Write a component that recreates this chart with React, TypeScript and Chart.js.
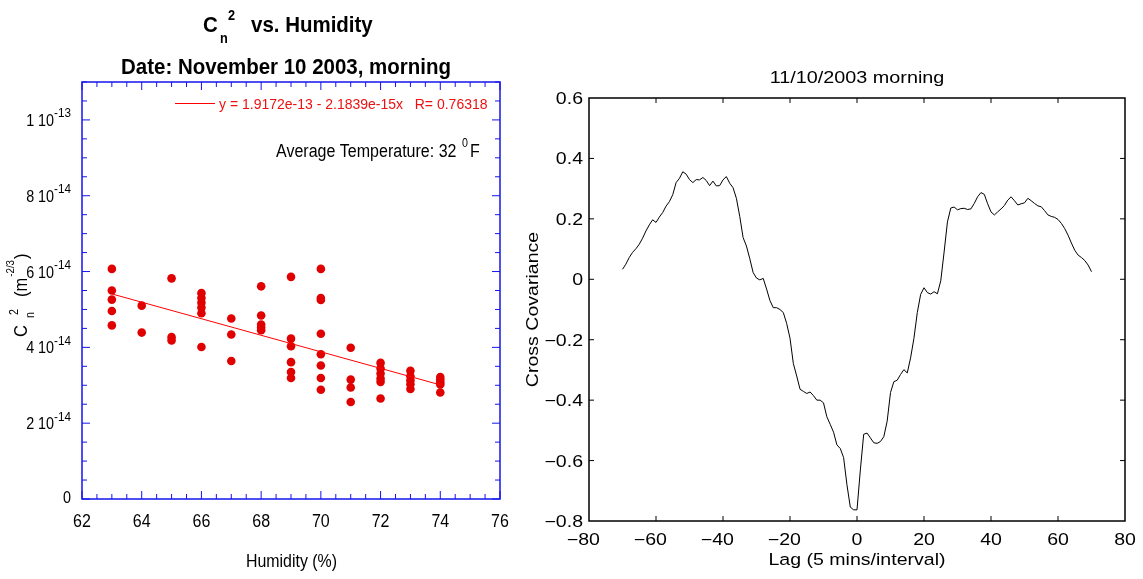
import React, { useEffect, useRef } from "react";
import { Chart, registerables } from "chart.js";

Chart.register(...registerables);

// ---------------- Left panel data: Cn2 vs Humidity ----------------
const humidity = [
  63, 63, 63, 63, 63,
  64, 64,
  65, 65, 65,
  66, 66, 66, 66, 66, 66,
  67, 67, 67,
  68, 68, 68, 68, 68,
  69, 69, 69, 69, 69, 69,
  70, 70, 70, 70, 70, 70, 70, 70,
  71, 71, 71, 71,
  72, 72, 72, 72, 72, 72,
  73, 73, 73, 73, 73,
  74, 74, 74, 74, 74,
];
const cn2 = [
  6.07e-14, 5.5e-14, 5.26e-14, 4.96e-14, 4.58e-14,
  5.1e-14, 4.39e-14,
  5.82e-14, 4.27e-14, 4.18e-14,
  5.43e-14, 5.3e-14, 5.18e-14, 5.05e-14, 4.9e-14, 4.01e-14,
  4.76e-14, 4.34e-14, 3.64e-14,
  5.61e-14, 4.84e-14, 4.6e-14, 4.52e-14, 4.45e-14,
  5.86e-14, 4.23e-14, 4.03e-14, 3.61e-14, 3.35e-14, 3.19e-14,
  6.07e-14, 5.3e-14, 5.25e-14, 4.36e-14, 3.82e-14, 3.52e-14, 3.19e-14, 2.88e-14,
  3.99e-14, 3.15e-14, 2.94e-14, 2.56e-14,
  3.59e-14, 3.44e-14, 3.31e-14, 3.18e-14, 3.09e-14, 2.65e-14,
  3.38e-14, 3.24e-14, 3.13e-14, 3.03e-14, 2.9e-14,
  3.22e-14, 3.15e-14, 3.08e-14, 3.02e-14, 2.81e-14,
];
const fitLineX = [63, 74];
const fitLineY = [5.41e-14, 3.01e-14];
const fitLegendText = "y = 1.9172e-13 - 2.1839e-15x   R= 0.76318";

const leftXTickValues = [62, 64, 66, 68, 70, 72, 74, 76];
const leftXTickLabels = ["62", "64", "66", "68", "70", "72", "74", "76"];
const leftYTickValues = [0, 2e-14, 4e-14, 6e-14, 8e-14, 1e-13];
const leftYTickMantissas = ["0", "2 10", "4 10", "6 10", "8 10", "1 10"];
const leftYTickExponents = ["", "-14", "-14", "-14", "-14", "-13"];

// ---------------- Right panel data: cross covariance ----------------
const lags = [
  -70, -69, -68, -67, -66, -65, -64, -63, -62, -61,
  -60, -59, -58, -57, -56, -55, -54, -53, -52, -51,
  -50, -49, -48, -47, -46, -45, -44, -43, -42, -41,
  -40, -39, -38, -37, -36, -35, -34, -33, -32, -31,
  -30, -29, -28, -27, -26, -25, -24, -23, -22, -21,
  -20, -19, -18, -17, -16, -15, -14, -13, -12, -11,
  -10, -9, -8, -7, -6, -5, -4, -3, -2, -1,
  0,
  1, 2, 3, 4, 5, 6, 7, 8, 9, 10,
  11, 12, 13, 14, 15, 16, 17, 18, 19, 20,
  21, 22, 23, 24, 25, 26, 27, 28, 29, 30,
  31, 32, 33, 34, 35, 36, 37, 38, 39, 40,
  41, 42, 43, 44, 45, 46, 47, 48, 49, 50,
  51, 52, 53, 54, 55, 56, 57, 58, 59, 60,
  61, 62, 63, 64, 65, 66, 67, 68, 69, 70,
];
const crossCov = [
  0.033, 0.05, 0.072, 0.089, 0.101, 0.116, 0.136, 0.16, 0.18, 0.197,
  0.188, 0.206, 0.221, 0.242, 0.257, 0.28, 0.32, 0.334, 0.356, 0.348,
  0.33, 0.32, 0.33, 0.329, 0.337, 0.327, 0.31, 0.325, 0.309, 0.31,
  0.329, 0.34, 0.318, 0.303, 0.268, 0.208, 0.138, 0.11, 0.068, 0.022,
  0.004, -0.002, 0.003, -0.032, -0.07, -0.094, -0.094, -0.1, -0.11, -0.146,
  -0.195, -0.279, -0.32, -0.364, -0.371, -0.378, -0.373, -0.385, -0.4, -0.4,
  -0.409, -0.455, -0.48, -0.506, -0.548, -0.56, -0.59, -0.68, -0.754, -0.763,
  -0.763,
  -0.631, -0.513, -0.509, -0.525, -0.541, -0.543, -0.537, -0.521, -0.47, -0.375,
  -0.339, -0.334, -0.315, -0.299, -0.31, -0.26, -0.195, -0.11, -0.05, -0.028,
  -0.044, -0.049, -0.041, -0.048, -0.005, 0.09, 0.19, 0.236, 0.239, 0.23,
  0.234, 0.235, 0.231, 0.233, 0.251, 0.273, 0.287, 0.281, 0.25, 0.223,
  0.213, 0.223, 0.233, 0.244, 0.262, 0.273, 0.26, 0.246, 0.25, 0.253,
  0.268, 0.26, 0.251, 0.243, 0.24, 0.227, 0.213, 0.208, 0.205, 0.198,
  0.185, 0.168, 0.146, 0.12, 0.096, 0.08, 0.072, 0.062, 0.047, 0.025,
];
const rightXTickValues = [-80, -60, -40, -20, 0, 20, 40, 60, 80];
const rightXTickLabels = ["\u221280", "\u221260", "\u221240", "\u221220", "0", "20", "40", "60", "80"];
const rightYTickValues = [-0.8, -0.6, -0.4, -0.2, 0, 0.2, 0.4, 0.6];
const rightYTickLabels = ["\u22120.8", "\u22120.6", "\u22120.4", "\u22120.2", "0", "0.2", "0.4", "0.6"];

// ---------------- helpers ----------------
const FONT = '"Liberation Sans", Arial, Helvetica, sans-serif';
const BLUE = "#1414ee";
const RED_DOT = "#e00000";
const RED = "#ff0000";

type TOpts = { bold?: boolean; sx?: number; align?: "left" | "center" | "right"; color?: string };

function measure(ctx: CanvasRenderingContext2D, s: string, size: number, o: TOpts = {}) {
  ctx.save();
  ctx.font = `${o.bold ? "bold " : ""}${size}px ${FONT}`;
  const w = ctx.measureText(s).width * (o.sx ?? 1);
  ctx.restore();
  return w;
}

function drawText(ctx: CanvasRenderingContext2D, s: string, x: number, y: number, size: number, o: TOpts = {}) {
  const sx = o.sx ?? 1;
  ctx.save();
  ctx.font = `${o.bold ? "bold " : ""}${size}px ${FONT}`;
  ctx.fillStyle = o.color ?? "#000";
  ctx.textAlign = "left";
  ctx.textBaseline = "alphabetic";
  const w = ctx.measureText(s).width * sx;
  const x0 = o.align === "center" ? x - w / 2 : o.align === "right" ? x - w : x;
  ctx.translate(x0, y);
  ctx.scale(sx, 1);
  ctx.fillText(s, 0, 0);
  ctx.restore();
  return w;
}

function seg(ctx: CanvasRenderingContext2D, x1: number, y1: number, x2: number, y2: number) {
  ctx.beginPath();
  ctx.moveTo(x1, y1);
  ctx.lineTo(x2, y2);
  ctx.stroke();
}

const leftDecor = {
  id: "leftDecor",
  afterDraw(chart: any) {
    const { ctx, chartArea: a, scales } = chart;
    const xs = scales.x;
    const ys = scales.y;
    ctx.save();
    // box
    ctx.strokeStyle = BLUE;
    ctx.lineWidth = 1.5;
    ctx.strokeRect(a.left, a.top, a.right - a.left, a.bottom - a.top);
    // ticks (inward, all sides)
    ctx.lineWidth = 1;
    for (let i = 0; i <= 28; i++) {
      const v = 62 + i * 0.5;
      const px = xs.getPixelForValue(v);
      const len = i % 4 === 0 ? 8 : 5;
      seg(ctx, px, a.bottom, px, a.bottom - len);
      seg(ctx, px, a.top, px, a.top + len);
    }
    for (let i = 0; i <= 22; i++) {
      const v = i * 0.5e-14;
      const py = ys.getPixelForValue(v);
      const len = i % 4 === 0 ? 8 : 5;
      seg(ctx, a.left, py, a.left + len, py);
      seg(ctx, a.right, py, a.right - len, py);
    }
    // x tick labels
    leftXTickValues.forEach((v, i) => {
      drawText(ctx, leftXTickLabels[i], xs.getPixelForValue(v), 527, 18, { sx: 0.89, align: "center" });
    });
    // y tick labels with superscript exponent
    leftYTickValues.forEach((v, i) => {
      const py = ys.getPixelForValue(v);
      const man = leftYTickMantissas[i];
      const exp = leftYTickExponents[i];
      const right = a.left - 11;
      if (!exp) {
        drawText(ctx, man, right, py + 4, 16.5, { sx: 0.87, align: "right" });
        return;
      }
      const we = measure(ctx, exp, 13, { sx: 0.9 });
      const wm = measure(ctx, man, 16.5, { sx: 0.87 });
      drawText(ctx, man, right - we - wm, py + 6, 16.5, { sx: 0.87 });
      drawText(ctx, exp, right - we, py - 2.5, 13, { sx: 0.9 });
    });
    // title
    drawText(ctx, "C", 203, 32, 22.5, { bold: true, sx: 0.91 });
    drawText(ctx, "n", 220, 43, 14, { bold: true, sx: 0.91 });
    drawText(ctx, "2", 228, 20, 14, { bold: true, sx: 0.91 });
    drawText(ctx, "vs. Humidity", 251, 32, 22.5, { bold: true, sx: 0.91 });
    drawText(ctx, "Date: November 10 2003, morning", 286, 74, 22.5, { bold: true, sx: 0.91, align: "center" });
    // x axis title
    drawText(ctx, "Humidity (%)", 291.5, 567, 18.5, { sx: 0.86, align: "center" });
    // y axis title (rotated)
    ctx.save();
    ctx.translate(27, 337);
    ctx.rotate(-Math.PI / 2);
    drawText(ctx, "C", 0, 0, 18.5, { sx: 0.89 });
    drawText(ctx, "n", 19, 7, 12, { sx: 0.89 });
    drawText(ctx, "2", 22, -9, 12, { sx: 0.89 });
    let t = 40 + drawText(ctx, "(m", 40, 0, 18.5, { sx: 0.89 });
    t += 1 + drawText(ctx, "-2/3", t + 1, -13, 11, { sx: 0.89 });
    drawText(ctx, ")", t + 1, 0, 18.5, { sx: 0.89 });
    ctx.restore();
    // legend
    ctx.strokeStyle = RED;
    ctx.lineWidth = 1;
    seg(ctx, 175, 103.5, 215, 103.5);
    drawText(ctx, fitLegendText, 219, 108.5, 14, { color: "#ee1111" });
    // average temperature annotation
    const w1 = drawText(ctx, "Average Temperature: 32 ", 276, 157, 18, { sx: 0.89 });
    drawText(ctx, "0", 276 + w1 + 1, 147, 12, { sx: 0.89 });
    drawText(ctx, "F", 276 + w1 + 9, 157, 18, { sx: 0.89 });
    ctx.restore();
  },
};

const rightDecor = {
  id: "rightDecor",
  afterDraw(chart: any) {
    const { ctx, chartArea: a, scales } = chart;
    const xs = scales.x;
    const ys = scales.y;
    const SX = 1.2;
    ctx.save();
    ctx.strokeStyle = "#000";
    ctx.lineWidth = 1.5;
    ctx.strokeRect(a.left, a.top, a.right - a.left, a.bottom - a.top);
    ctx.lineWidth = 1;
    rightXTickValues.forEach((v, i) => {
      const px = xs.getPixelForValue(v);
      if (i > 0 && i < rightXTickValues.length - 1) {
        seg(ctx, px, a.bottom, px, a.bottom - 5);
        seg(ctx, px, a.top, px, a.top + 5);
      }
      const lab = rightXTickLabels[i];
      const neg = lab.startsWith("\u2212");
      const digits = neg ? lab.slice(1) : lab;
      const wd = measure(ctx, digits, 16.3, { sx: SX });
      const wm = neg ? measure(ctx, "\u2212", 16.3, { sx: SX }) : 0;
      drawText(ctx, lab, px - wd / 2 - wm, 545, 16.3, { sx: SX });
    });
    rightYTickValues.forEach((v, i) => {
      const py = ys.getPixelForValue(v);
      if (i > 0 && i < rightYTickValues.length - 1) {
        seg(ctx, a.left, py, a.left + 5, py);
        seg(ctx, a.right, py, a.right - 5, py);
      }
      drawText(ctx, rightYTickLabels[i], a.left - 6, py + 6, 16.3, { sx: SX, align: "right" });
    });
    drawText(ctx, "11/10/2003 morning", (a.left + a.right) / 2, 83, 16.5, { sx: SX, align: "center" });
    drawText(ctx, "Lag (5 mins/interval)", (a.left + a.right) / 2, 565, 16.3, { sx: SX, align: "center" });
    ctx.save();
    ctx.translate(18, (a.top + a.bottom) / 2);
    ctx.rotate(-Math.PI / 2);
    drawText(ctx, "Cross Covariance", 0, 0, 16.3, { sx: SX, align: "center" });
    ctx.restore();
    ctx.restore();
  },
};

export default function App() {
  const leftRef = useRef<HTMLCanvasElement>(null);
  const rightRef = useRef<HTMLCanvasElement>(null);

  useEffect(() => {
    document.body.style.margin = "0";
    const left = new Chart(leftRef.current as HTMLCanvasElement, {
      type: "scatter",
      data: {
        datasets: [
          {
            type: "line",
            data: fitLineX.map((x, i) => ({ x, y: fitLineY[i] })),
            borderColor: RED,
            borderWidth: 1,
            pointRadius: 0,
            showLine: true,
            fill: false,
          } as any,
          {
            data: humidity.map((x, i) => ({ x, y: cn2[i] })),
            backgroundColor: RED_DOT,
            borderWidth: 0,
            pointRadius: 4.3,
            pointHoverRadius: 4.3,
          },
        ],
      },
      options: {
        animation: false,
        responsive: false,
        maintainAspectRatio: false,
        events: [],
        layout: { padding: { left: 82, right: 20, top: 82, bottom: 80 } },
        scales: {
          x: { type: "linear", min: 62, max: 76, display: false },
          y: { type: "linear", min: 0, max: 1.1e-13, display: false },
        },
        plugins: { legend: { display: false }, tooltip: { enabled: false }, title: { display: false } },
      },
      plugins: [leftDecor],
    });

    const right = new Chart(rightRef.current as HTMLCanvasElement, {
      type: "line",
      data: {
        datasets: [
          {
            data: lags.map((x, i) => ({ x, y: crossCov[i] })),
            borderColor: "#000",
            borderWidth: 1,
            pointRadius: 0,
            tension: 0,
            fill: false,
          },
        ],
      },
      options: {
        animation: false,
        responsive: false,
        maintainAspectRatio: false,
        events: [],
        layout: { padding: { left: 69, right: 18, top: 98, bottom: 58 } },
        scales: {
          x: { type: "linear", min: -80, max: 80, display: false },
          y: { type: "linear", min: -0.8, max: 0.6, display: false },
        },
        plugins: { legend: { display: false }, tooltip: { enabled: false }, title: { display: false } },
      },
      plugins: [rightDecor],
    });

    return () => {
      left.destroy();
      right.destroy();
    };
  }, []);

  return (
    <div style={{ position: "fixed", left: 0, top: 0, width: 1143, height: 579, background: "#fff" }}>
      <canvas
        ref={leftRef}
        width={520}
        height={579}
        style={{ position: "absolute", left: 0, top: 0, width: 520, height: 579 }}
      />
      <canvas
        ref={rightRef}
        width={623}
        height={579}
        style={{ position: "absolute", left: 520, top: 0, width: 623, height: 579 }}
      />
    </div>
  );
}
